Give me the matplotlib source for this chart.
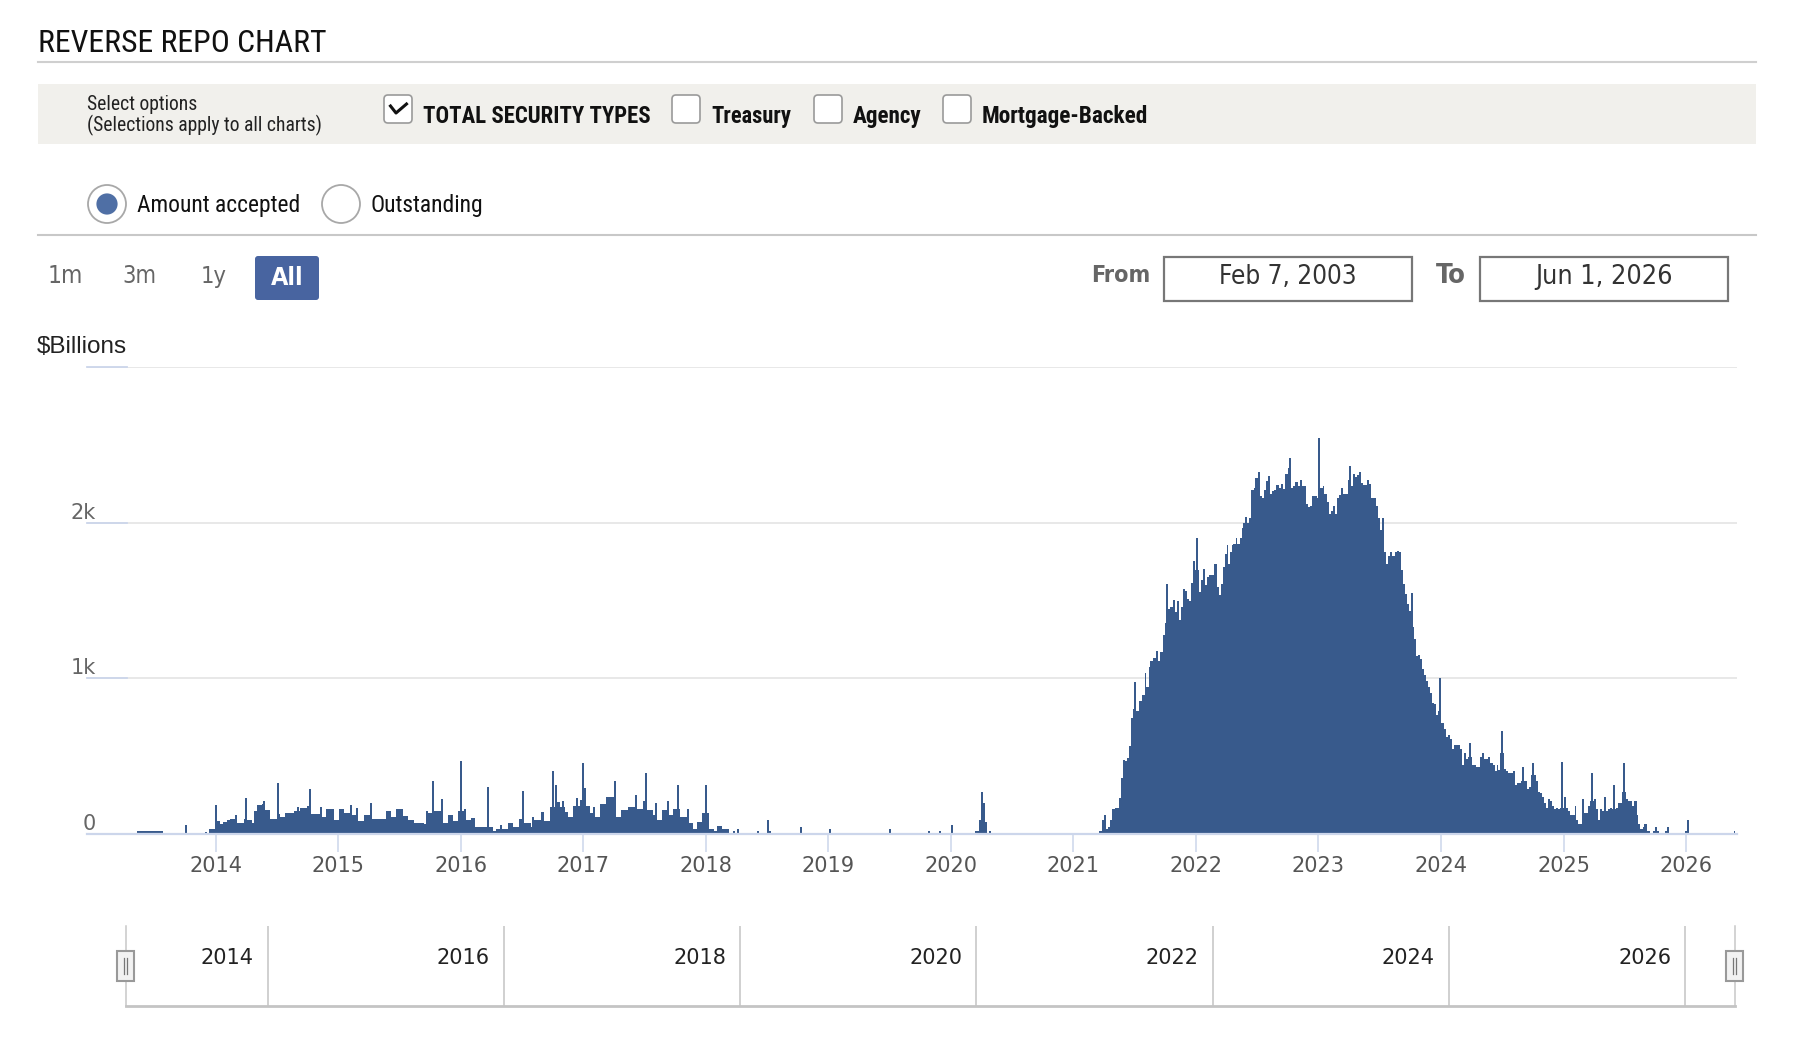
import numpy as np
import matplotlib
matplotlib.use("Agg")
import matplotlib.pyplot as plt
import matplotlib.transforms as mtransforms
from matplotlib import font_manager
from matplotlib.patches import Rectangle, FancyBboxPatch, Circle

# ---------------- data ($ billions, x in decimal years) ----------------
# step levels: each level holds until the next start
early_t = [2013.358, 2013.566, 2013.915, 2013.932, 2013.948, 2013.995, 2014.036, 2014.063, 2014.090, 2014.117,
           2014.158, 2014.172, 2014.227, 2014.254, 2014.295, 2014.309, 2014.336, 2014.377, 2014.404, 2014.445,
           2014.500, 2014.527, 2014.568, 2014.637, 2014.691, 2014.746, 2014.773, 2014.855, 2014.896, 2014.964,
           2015.005, 2015.046, 2015.101, 2015.156, 2015.210, 2015.265, 2015.388, 2015.429, 2015.470, 2015.525,
           2015.566, 2015.620, 2015.702, 2015.730, 2015.784, 2015.852, 2015.893, 2015.934, 2015.975, 2016.030,
           2016.044, 2016.085, 2016.112, 2016.160, 2016.260, 2016.287, 2016.383, 2016.423, 2016.473, 2016.519,
           2016.574, 2016.601, 2016.656, 2016.683, 2016.724, 2016.779, 2016.806, 2016.847, 2016.874, 2016.915,
           2016.970, 2016.992, 2017.025, 2017.052, 2017.079, 2017.093, 2017.134, 2017.189, 2017.270, 2017.311,
           2017.366, 2017.434, 2017.489, 2017.516, 2017.571, 2017.598, 2017.639, 2017.694, 2017.735, 2017.790,
           2017.866, 2017.899, 2017.926, 2017.967, 2018.022, 2018.063, 2018.090, 2018.131, 2018.186]
early_v = [13, 0, 9, 0, 26, 78, 58, 73, 90, 95,
           117, 65, 95, 90, 65, 145, 185, 188, 150, 95,
           125, 108, 134, 145, 166, 177, 125, 108, 160, 90,
           155, 134, 117, 80, 117, 95, 142, 108, 160, 112,
           90, 70, 58, 130, 142, 65, 117, 78, 145, 155,
           90, 100, 41, 45, 15, 26, 70, 43, 95, 65,
           45, 85, 140, 78, 170, 200, 168, 140, 108, 180,
           216, 290, 177, 130, 168, 105, 190, 235, 104, 150,
           170, 155, 207, 150, 120, 90, 150, 120, 155, 104,
           65, 26, 75, 130, 26, 15, 47, 30, 0]

covid_t = [2020.200, 2020.232, 2020.249, 2020.264, 2020.280, 2020.296]
covid_v = [13, 90, 270, 193, 77, 0]

peak_t = [2021.205, 2021.237, 2021.253, 2021.267, 2021.283, 2021.300, 2021.317, 2021.336, 2021.369, 2021.385,
          2021.402, 2021.418, 2021.437, 2021.454, 2021.467, 2021.486, 2021.514, 2021.536, 2021.563, 2021.582,
          2021.596, 2021.615, 2021.628, 2021.650, 2021.678, 2021.694, 2021.710, 2021.732, 2021.746, 2021.776,
          2021.792, 2021.814, 2021.828, 2021.842, 2021.858, 2021.874, 2021.896, 2021.913, 2021.929, 2021.945,
          2021.962, 2021.978, 2021.995, 2022.022, 2022.038, 2022.060, 2022.074, 2022.087, 2022.109, 2022.128,
          2022.148, 2022.169, 2022.186, 2022.202, 2022.219, 2022.238, 2022.251, 2022.265, 2022.279, 2022.292,
          2022.306, 2022.328, 2022.339, 2022.361, 2022.374, 2022.388, 2022.402, 2022.415, 2022.432, 2022.448,
          2022.470, 2022.486, 2022.503, 2022.519, 2022.538, 2022.552, 2022.568, 2022.585, 2022.601, 2022.620,
          2022.639, 2022.656, 2022.675, 2022.694, 2022.710, 2022.730, 2022.749, 2022.776, 2022.792, 2022.811,
          2022.831, 2022.847, 2022.863, 2022.902, 2022.918, 2022.934, 2022.951, 2022.967, 2022.989, 2023.016,
          2023.033, 2023.049, 2023.066, 2023.087, 2023.104, 2023.120, 2023.137, 2023.153, 2023.169, 2023.186,
          2023.202, 2023.240, 2023.268, 2023.284, 2023.301, 2023.317, 2023.333, 2023.350, 2023.366, 2023.399,
          2023.415, 2023.432, 2023.470, 2023.486, 2023.503, 2023.522, 2023.536, 2023.555, 2023.568, 2023.585,
          2023.604, 2023.623, 2023.639, 2023.656, 2023.672, 2023.689, 2023.705, 2023.721, 2023.738, 2023.754,
          2023.770, 2023.781, 2023.798, 2023.814, 2023.831, 2023.847, 2023.863, 2023.880, 2023.896, 2023.913,
          2023.929, 2023.945, 2023.962, 2023.978]
peak_v = [13, 90, 116, 26, 39, 90, 155, 166, 226, 356,
          475, 464, 485, 565, 744, 798, 787, 852, 889, 1031,
          943, 1068, 1111, 1128, 1171, 1111, 1165, 1277, 1355, 1445,
          1456, 1499, 1424, 1495, 1370, 1456, 1575, 1562, 1510, 1497,
          1614, 1754, 1693, 1553, 1628, 1704, 1600, 1652, 1665, 1661,
          1730, 1585, 1536, 1603, 1715, 1795, 1855, 1730, 1808, 1855,
          1859, 1902, 1859, 1898, 1963, 2000, 2038, 2000, 2032, 2211,
          2222, 2286, 2325, 2168, 2157, 2211, 2265, 2297, 2183, 2200,
          2211, 2243, 2222, 2248, 2217, 2312, 2351, 2222, 2232, 2260,
          2232, 2273, 2232, 2118, 2097, 2103, 2168, 2172, 2157, 2222,
          2232, 2183, 2131, 2056, 2071, 2103, 2053, 2157, 2179, 2222,
          2183, 2276, 2237, 2312, 2291, 2304, 2325, 2254, 2243, 2276,
          2248, 2157, 2103, 2028, 1952, 2028, 1808, 1732, 1786, 1808,
          1784, 1808, 1816, 1808, 1693, 1603, 1538, 1478, 1434, 1549,
          1331, 1251, 1139, 1148, 1122, 1061, 1018, 981, 945, 906,
          837, 830, 759, 787]

late_t = [2024.000, 2024.025, 2024.044, 2024.060, 2024.077, 2024.093, 2024.109, 2024.158, 2024.175, 2024.191,
          2024.208, 2024.224, 2024.251, 2024.284, 2024.317, 2024.333, 2024.350, 2024.383, 2024.399, 2024.421,
          2024.437, 2024.454, 2024.464, 2024.481, 2024.514, 2024.530, 2024.546, 2024.585, 2024.601, 2024.617,
          2024.650, 2024.683, 2024.699, 2024.716, 2024.732, 2024.760, 2024.776, 2024.792, 2024.809, 2024.825,
          2024.842, 2024.858, 2024.874, 2024.891, 2024.907, 2024.923, 2024.940, 2024.956, 2024.973, 2025.005,
          2025.022, 2025.038, 2025.055, 2025.090, 2025.104, 2025.120, 2025.153, 2025.169, 2025.202, 2025.219,
          2025.246, 2025.268, 2025.284, 2025.301, 2025.317, 2025.350, 2025.366, 2025.383, 2025.399, 2025.432,
          2025.448, 2025.481, 2025.514, 2025.530, 2025.563, 2025.579, 2025.596, 2025.612, 2025.628, 2025.645,
          2025.661, 2025.678, 2025.710, 2025.732, 2025.749, 2025.760, 2025.776, 2025.831, 2025.842, 2025.858,
          2025.992, 2026.005, 2026.022, 2026.388, 2026.399]
late_v = [708, 670, 620, 631, 605, 541, 567, 541, 438, 515,
          476, 489, 438, 425, 489, 515, 476, 489, 451, 438,
          399, 438, 408, 515, 412, 399, 386, 399, 309, 322,
          335, 335, 283, 296, 373, 373, 335, 270, 258, 232,
          197, 167, 219, 206, 180, 155, 165, 155, 165, 232,
          165, 142, 116, 180, 90, 64, 219, 129, 180, 206,
          219, 155, 90, 155, 142, 142, 155, 167, 155, 167,
          193, 270, 219, 206, 180, 206, 116, 64, 26, 39,
          64, 13, 0, 13, 39, 13, 0, 13, 39, 0,
          13, 90, 0, 13, 0]

# single-day spikes above the weekly level
spike_t = [2013.754, 2014.000, 2014.246, 2014.396, 2014.511, 2014.672, 2014.773, 2014.860, 2015.101, 2015.153,
           2015.265, 2015.721, 2015.773, 2015.850, 2016.000, 2016.220, 2016.328, 2016.505, 2016.593, 2016.754,
           2016.773, 2016.833, 2016.951, 2017.000, 2017.262, 2017.426, 2017.508, 2017.593, 2017.691, 2017.770,
           2017.855, 2018.005, 2018.227, 2018.262, 2018.426, 2018.508, 2018.525, 2018.773, 2019.014, 2019.500,
           2019.820, 2019.910, 2020.010, 2020.320, 2021.503, 2021.765, 2022.011, 2022.765, 2023.003, 2023.258,
           2023.995, 2024.240, 2024.497, 2024.667, 2024.749, 2024.989, 2025.235, 2025.339, 2025.415, 2025.497]
spike_v = [52, 181, 230, 207, 324, 168, 285, 168, 181, 164,
           194, 142, 335, 220, 466, 298, 52, 272, 104, 402,
           311, 207, 231, 453, 337, 246, 389, 194, 207, 311,
           155, 311, 13, 26, 13, 90, 13, 39, 26, 26,
           13, 13, 52, 13, 977, 1603, 1898, 2416, 2545, 2362,
           1003, 579, 657, 425, 451, 461, 386, 232, 309, 451]

years = list(range(2014, 2027))
nav_years = list(range(2014, 2027, 2))
y_ticks = [0, 1000, 2000, 3000]
y_labels = ["0", "1k", "2k"]

option_labels = ["TOTAL SECURITY TYPES", "Treasury", "Agency", "Mortgage-Backed"]
option_checked = [True, False, False, False]
radio_labels = ["Amount accepted", "Outstanding"]
range_labels = ["1m", "3m", "1y", "All"]
date_from = "Feb 7, 2003"
date_to = "Jun 1, 2026"

BAR = "#385a8c"
W, H = 1808, 1062

# ---------------- fonts ----------------
_fm = font_manager.fontManager
_names = {f.name for f in _fm.ttflist}


def _has_stretch(name):
    return any(f.name == name and f.stretch in ("condensed", "semi-condensed", "extra-condensed")
               for f in _fm.ttflist)


def _pick(named, stretched, fallback):
    for n in named:
        if n in _names:
            return {"fontfamily": n}
    for n in stretched:
        if _has_stretch(n):
            return {"fontfamily": n, "fontstretch": "condensed"}
    return {"fontfamily": fallback}


NARROW = _pick(["Liberation Sans Narrow", "Roboto Condensed", "Open Sans Condensed",
                "Noto Sans Condensed", "Arial Narrow"],
               ["Noto Sans", "Liberation Sans", "Roboto", "Open Sans"], "Liberation Sans")
COND = _pick(["DejaVu Sans Condensed"], ["DejaVu Sans"], "DejaVu Sans")


def frac(x0, y0, x1, y1):
    return [x0 / W, 1 - y1 / H, (x1 - x0) / W, (y1 - y0) / H]


fig = plt.figure(figsize=(W / 100, H / 100), dpi=100)
fig.patch.set_facecolor("white")
renderer = fig.canvas.get_renderer()


def fit(txt, width_px):
    # scale the font so the text spans the width measured on the reference
    w = txt.get_window_extent(renderer).width
    if w > 0:
        txt.set_fontsize(txt.get_fontsize() * width_px / w)
    return txt


# ---------------- main chart ----------------
ax = fig.add_axes(frac(87, 367, 1737, 833.5))
t = np.concatenate([early_t, covid_t, peak_t, late_t])
v = np.concatenate([early_v, covid_v, peak_v, late_v])
edges = np.append(t, t[-1] + 0.01)
ax.stairs(v, edges, fill=True, color=BAR, linewidth=0)
ax.bar(spike_t, spike_v, width=0.016, color=BAR, linewidth=0)

ax.set_xlim(2012.949, 2026.416)
ax.set_ylim(0, 3000)
ax.set_yticks(y_ticks)
ax.set_yticklabels([])
ax.tick_params(axis="y", length=0)
ax.grid(axis="y", color="#e6e6e6", lw=1.3)
ax.set_axisbelow(True)
for s in ["top", "right", "left"]:
    ax.spines[s].set_visible(False)
ax.spines["bottom"].set_color("#ccd6eb")
ax.spines["bottom"].set_linewidth(1.6)
ax.set_xticks(years)
ax.set_xticklabels([str(y) for y in years])
ax.tick_params(axis="x", length=13, width=1.1, color="#ccd6eb",
               labelsize=15, labelcolor="#555555", pad=3)

blend = mtransforms.blended_transform_factory(ax.transAxes, ax.transData)
for g in y_ticks[1:]:
    ax.plot([0, 0.0242], [g, g], transform=blend, color="#ccd6eb", lw=1.3, clip_on=False)
for g, lab in zip(y_ticks, y_labels):
    ax.annotate(lab, xy=(0, g), xycoords=blend, xytext=(6.5, 2.8), textcoords="offset points",
                ha="right", va="baseline", fontsize=15, color="#666666", annotation_clip=False)

# ---------------- navigator ----------------
nav = fig.add_axes(frac(125.7, 926, 1735, 1006))
nav.set_xlim(2012.798, 2026.423)
nav.set_ylim(0, 1)
nav.set_xticks([])
nav.set_yticks([])
nav.spines["top"].set_visible(False)
for s in ["left", "right"]:
    nav.spines[s].set_color("#c8c8c8")
    nav.spines[s].set_linewidth(1.1)
nav.spines["bottom"].set_color("#c4c4c4")
nav.spines["bottom"].set_linewidth(2.0)
for yr in nav_years:
    nav.axvline(yr, color="#c4c4c4", lw=1.1)
    nav.annotate(str(yr), xy=(yr, 0.6), xytext=(-10, 0), textcoords="offset points",
                 ha="right", va="center", fontsize=15, color="#222222")

# ---------------- page furniture (pixel coordinates) ----------------
ui = fig.add_axes([0, 0, 1, 1], zorder=5)
ui.set_xlim(0, W)
ui.set_ylim(H, 0)
ui.axis("off")

fit(ui.text(38, 52, "REVERSE REPO CHART", va="baseline", ha="left", color="#111111",
            fontsize=22, **NARROW), 288)
ui.plot([38, 1756], [62, 62], color="#cfcfcf", lw=1.5)

ui.add_patch(Rectangle((38, 84), 1718, 60, fc="#f1f0ec", ec="none"))
fit(ui.text(87, 104, "Select options", va="center", color="#222222", fontsize=13, **NARROW), 110)
fit(ui.text(87, 125, "(Selections apply to all charts)", va="center", color="#222222",
            fontsize=13, **NARROW), 235)

box_x = [384, 672, 814, 943]
label_w = [228, 80, 69, 167]
for bx, lab, chk, lw_ in zip(box_x, option_labels, option_checked, label_w):
    ui.add_patch(FancyBboxPatch((bx, 95), 28, 28, boxstyle="round,pad=0,rounding_size=4",
                                fc="white", ec="#9a9a9a", lw=1.2))
    if chk:
        ui.plot([bx + 6.5, bx + 12, bx + 22.5], [106, 113, 104], color="#111111", lw=2.2)
    fit(ui.text(bx + 39, 123, lab, va="baseline", color="#111111", fontsize=16,
                fontweight="bold", **NARROW), lw_)

radio_x = [107, 341]
radio_w = [163, 113]
for i, (rx, lab, rw) in enumerate(zip(radio_x, radio_labels, radio_w)):
    ui.add_patch(Circle((rx, 204), 19, fc="white", ec="#a8a8a8", lw=1.3))
    if i == 0:
        ui.add_patch(Circle((rx, 204), 10.6, fc="#4f6fa5", ec="none"))
    fit(ui.text(rx + 30, 212, lab, va="baseline", color="#111111", fontsize=17, **NARROW), rw)
ui.plot([38, 1756], [234.5, 234.5], color="#c8c8c8", lw=1.5)

range_x = [65.5, 139, 214, 287]
range_w = [35.6, 34.4, 26, 32.7]
for rx, lab, rw in zip(range_x, range_labels, range_w):
    if lab == "All":
        ui.add_patch(FancyBboxPatch((255, 256), 64, 44, boxstyle="round,pad=0,rounding_size=3",
                                    fc="#4864a0", ec="none"))
        fit(ui.text(rx, 278, lab, ha="center", va="center", color="white", fontsize=16,
                    fontweight="bold", **COND), rw)
    else:
        fit(ui.text(rx, 276, lab, ha="center", va="center", color="#666666", fontsize=16, **COND), rw)

fit(ui.text(1091, 276, "From", ha="left", va="center", color="#666666", fontsize=16,
            fontweight="bold", **COND), 59.7)
fit(ui.text(1436, 276, "To", ha="left", va="center", color="#666666", fontsize=16,
            fontweight="bold", **COND), 30)
for bx, lab in zip([1164, 1480], [date_from, date_to]):
    ui.add_patch(Rectangle((bx, 257), 248, 44, fc="white", ec="#777777", lw=1.6))
    fit(ui.text(bx + 124, 277, lab, ha="center", va="center", color="#333333", fontsize=17, **COND), 138)

fit(ui.text(37, 353, "$Billions", va="baseline", ha="left", color="#222222",
            fontfamily="Liberation Sans", fontsize=17.5), 90)

for cx in [125.8, 1735]:
    ui.add_patch(Rectangle((cx - 8.5, 950.7), 17, 30, fc="#f2f2f2", ec="#999999", lw=1.5))
    for dx in (-1.8, 1.0):
        ui.plot([cx + dx, cx + dx], [958, 974], color="#777777", lw=0.9)

fig.savefig("out.png", dpi=100)
